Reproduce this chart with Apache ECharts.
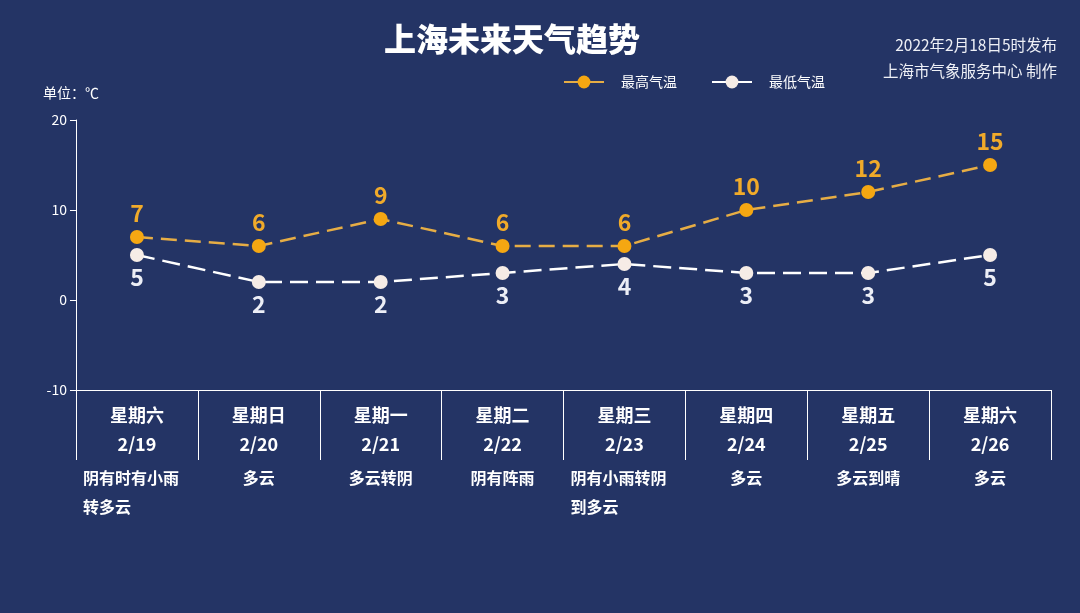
<!DOCTYPE html>
<html>
<head>
<meta charset="utf-8">
<script src="https://cdn.jsdelivr.net/npm/echarts@6/dist/echarts.min.js"></script>
<style>
html, body { margin: 0; padding: 0; background: #243465; }
#main { width: 1080px; height: 613px; }
</style>
</head>
<body>
<div id="main"></div>
<script>
// 日期、星期、天气
var weekdays = ['星期六', '星期日', '星期一', '星期二', '星期三', '星期四', '星期五', '星期六'];
var dates = ['2/19', '2/20', '2/21', '2/22', '2/23', '2/24', '2/25', '2/26'];
var weather = ['阴有时有小雨转多云', '多云', '多云转阴', '阴有阵雨', '阴有小雨转阴到多云', '多云', '多云到晴', '多云'];
// 气温
var highTemp = [7, 6, 9, 6, 6, 10, 12, 15];
var lowTemp = [5, 2, 2, 3, 4, 3, 3, 5];
var yTicks = [-10, 0, 10, 20];

var font = '"Noto Sans CJK SC", "Noto Sans", sans-serif';
var chart = echarts.init(document.getElementById('main'));

var cats = weekdays.map(function (w, i) { return w + '\n' + dates[i]; });

var option = {
	backgroundColor: '#243465',
	textStyle: { fontFamily: font },
	title: [
		{
			text: '上海未来天气趋势',
			left: 507,
			top: 18,
			textAlign: 'center',
			textStyle: { color: '#fff', fontSize: 32, fontWeight: 900, fontFamily: font }
		},
		//右上角发布信息
		{
			text: '2022年2月18日5时发布',
			right: 18,
			top: 32,
			textStyle: { color: '#eef0f6', fontSize: 15.5, fontWeight: 'normal', fontFamily: font }
		},
		{
			text: '上海市气象服务中心 制作',
			right: 18,
			top: 58,
			textStyle: { color: '#eef0f6', fontSize: 15.5, fontWeight: 'normal', fontFamily: font }
		}
	],
	//图例
	legend: {
		left: 558,
		top: 70,
		itemWidth: 40,
		itemHeight: 16,
		itemGap: 34,
		textStyle: { color: '#fff', fontSize: 14, padding: [0, 0, 0, 12], fontFamily: font },
		data: ['最高气温', '最低气温']
	},
	grid: {
		left: 76,
		right: 29,
		top: 120,
		bottom: 223,
		containLabel: false
	},
	xAxis: [
		{
			type: 'category',
			boundaryGap: true,
			data: cats,
			axisLine: { onZero: false, lineStyle: { color: '#fff', width: 1 } },
			axisTick: { show: true, length: 70, interval: 0, lineStyle: { color: '#fff', width: 1 } },
			axisLabel: {
				interval: 0,
				margin: 11,
				color: '#fff',
				fontSize: 18,
				fontWeight: 'bold',
				lineHeight: 29,
				fontFamily: font
			}
		},
		{
			type: 'category',
			position: 'bottom',
			boundaryGap: true,
			data: weather,
			axisLine: { show: false },
			axisTick: { show: false },
			axisLabel: {
				interval: 0,
				margin: 73,
				color: '#fff',
				fontSize: 16,
				fontWeight: 'bold',
				lineHeight: 29,
				fontFamily: font,
				formatter: function (v) {
					if (v.length > 6) {
						return '{w|' + v.slice(0, 6) + '}\n{w|' + v.slice(6) + '}';
					}
					return v;
				},
				rich: {
					w: { width: 108, align: 'left', fontSize: 16, fontWeight: 'bold', lineHeight: 29, color: '#fff', fontFamily: font }
				}
			}
		}
	],
	yAxis: {
		type: 'value',
		min: yTicks[0],
		max: yTicks[yTicks.length - 1],
		interval: 10,
		name: '单位：℃',
		nameLocation: 'end',
		nameGap: 20,
		nameTextStyle: { color: '#fff', fontSize: 14, align: 'center', padding: [0, 10, 0, 0], fontFamily: font },
		axisLine: { show: true, lineStyle: { color: '#fff', width: 1 } },
		axisTick: { show: true, length: 6, lineStyle: { color: '#fff' } },
		axisLabel: { color: '#fff', fontSize: 14, margin: 9, fontFamily: font },
		splitLine: { show: false }
	},
	series: [
		{
			name: '最高气温',
			type: 'line',
			data: highTemp,
			symbol: 'circle',
			symbolSize: 14,
			itemStyle: { color: '#f5a712' },
			lineStyle: { color: '#e6ad45', width: 2.5, type: [16, 8] },
			label: {
				show: true,
				position: 'top',
				distance: 5,
				color: '#f0aa2a',
				fontSize: 23,
				fontWeight: 'bold',
				fontFamily: font
			}
		},
		{
			name: '最低气温',
			type: 'line',
			data: lowTemp,
			symbol: 'circle',
			symbolSize: 14,
			itemStyle: { color: '#f6ece6' },
			lineStyle: { color: '#ffffff', width: 2.5, type: [18, 8] },
			label: {
				show: true,
				position: 'bottom',
				distance: 4,
				color: '#eceef6',
				fontSize: 23,
				fontWeight: 'bold',
				fontFamily: font
			}
		}
	]
};
chart.setOption(option);
</script>
</body>
</html>
